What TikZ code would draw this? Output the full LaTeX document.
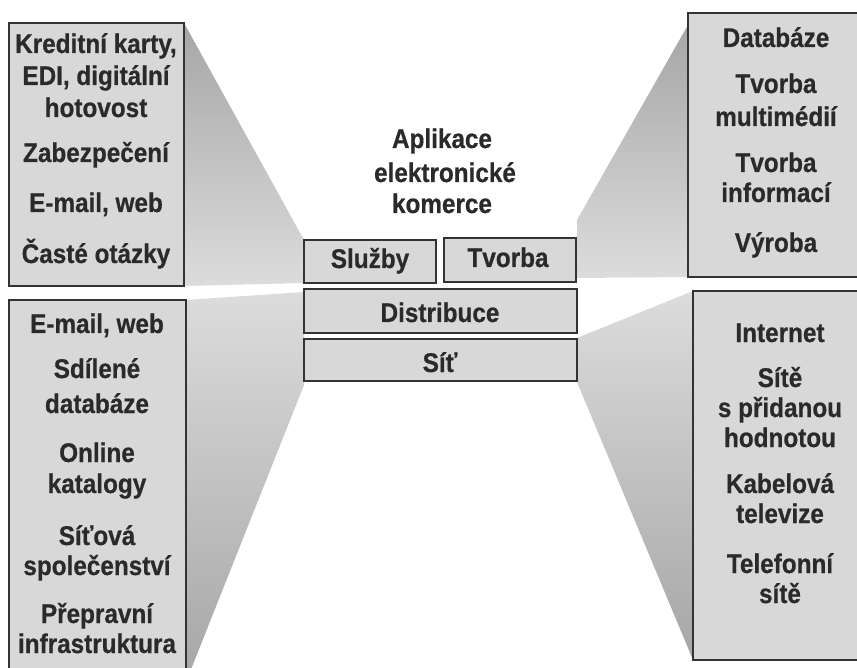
\documentclass[tikz,border=0pt]{standalone}
\usepackage{fontspec}
\setmainfont{Liberation Sans}[FakeStretch=0.9, BoldFeatures={FakeBold=0.6}]
\definecolor{txt}{HTML}{2A2A2A}
\definecolor{edge}{HTML}{333333}
\definecolor{boxfill}{HTML}{D8D8D8}
\definecolor{fdark}{HTML}{A6A6A6}
\definecolor{flight}{HTML}{DCDCDC}
\tikzset{
  lbl/.style={anchor=base, inner sep=0pt, text=txt, font=\fontsize{27}{30}\selectfont\bfseries},
  framebox/.style={draw=edge, line width=1.8pt, fill=boxfill},
  cbox/.style={framebox, rectangle, inner sep=0pt}
}
\begin{document}
\begin{tikzpicture}[x=1pt,y=-1pt]
\useasboundingbox (0,0) rectangle (857,668);
\clip (0,0) rectangle (857,668);
\fill[white] (0,0) rectangle (857,668);
% funnels
\shade[top color=fdark, bottom color=flight] (184,23) -- (304,240) -- (304,283) -- (184,286) -- cycle;
\shade[top color=flight, bottom color=fdark] (186,300) -- (304,292) -- (304,385) -- (186,682) -- cycle;
\shade[top color=fdark, bottom color=flight] (688,25) -- (577,220) -- (577,278) -- (688,277) -- cycle;
\shade[top color=flight, bottom color=fdark] (693,291) -- (577,338) -- (577,382) -- (693,660) -- cycle;
% side frames
\draw[framebox] (9,23) rectangle (184,286);
\draw[framebox] (9,300) rectangle (186,700);
\draw[framebox] (688,13) rectangle (880,277);
\draw[framebox] (693,291) rectangle (880,660);
% centre boxes
\node[cbox, minimum width=132pt, minimum height=43pt] (sluzby) at (370,261.5) {};
\node[cbox, minimum width=132pt, minimum height=44pt] (tvorba) at (510,260) {};
\node[cbox, minimum width=273pt, minimum height=44pt] (distribuce) at (440.5,311) {};
\node[cbox, minimum width=273pt, minimum height=42pt] (sit) at (440.5,360) {};
\node[lbl] (sluzbyl) at (370,268) {Služby};
\node[lbl] (tvorbal) at (508,267) {Tvorba};
\node[lbl] (distribucel) at (440,322) {Distribuce};
\node[lbl] (sitl) at (440,372) {Síť};
% title
\node[lbl] (t1) at (442,148) {Aplikace};
\node[lbl] (t2) at (445,182) {elektronické};
\node[lbl] (t3) at (442,213) {komerce};
% top-left
\foreach \n/\y/\t in {a/53/{Kreditní karty,}, b/85/{EDI, digitální}, c/117/hotovost,
  d/162/Zabezpečení, e/212/{E-mail, web}, f/263/Časté otázky}
  \node[lbl] (tl\n) at (96,\y) {\t};
% bottom-left
\foreach \n/\y/\t in {a/333/{E-mail, web}, b/378/Sdílené, c/413/databáze, d/462/Online,
  e/493/katalogy, f/545/Síťová, g/575/společenství, h/623/Přepravní, i/653/infrastruktura}
  \node[lbl] (bl\n) at (97,\y) {\t};
% top-right
\foreach \n/\y/\t in {a/47/Databáze, b/93/Tvorba, c/126/multimédií, d/172/Tvorba,
  e/202/informací, f/252/Výroba}
  \node[lbl] (tr\n) at (776,\y) {\t};
% bottom-right
\foreach \n/\y/\t in {a/342/Internet, b/387/Sítě, c/417/s přidanou, d/447/hodnotou,
  e/493/Kabelová, f/523/televize, g/573/Telefonní, h/603/sítě}
  \node[lbl] (br\n) at (780,\y) {\t};
\end{tikzpicture}
\end{document}
